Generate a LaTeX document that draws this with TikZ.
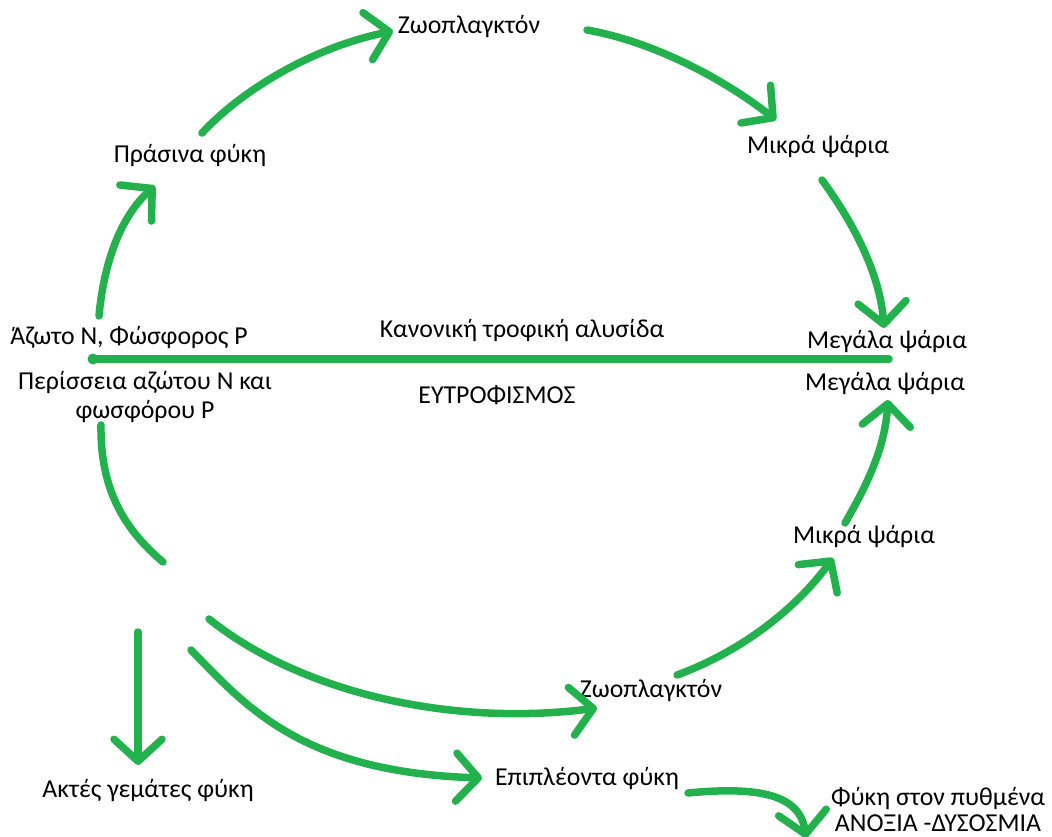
\documentclass[tikz,border=0pt]{standalone}
\usepackage{fontspec}
\setmainfont{Carlito}
\usetikzlibrary{arrows.meta}
\definecolor{paintgreen}{RGB}{34,177,76}
\tikzset{
  lbl/.style={inner sep=0pt, font=\fontsize{25.8}{29}\selectfont, text=black},
  conn/.style={draw=paintgreen, line width=7.5pt, line cap=round, line join=round},
  arr/.style={conn, -{Straight Barb[length=22pt, width=48pt, round]}},
}
\begin{document}
\begin{tikzpicture}[x=1pt, y=-1pt]
\useasboundingbox (0,0) rectangle (1052,836);
% labels
\node[lbl] (zoo1) at (469,26) {Ζωοπλαγκτόν};
\node[lbl] (prasina) at (190,155) {Πράσινα φύκη};
\node[lbl] (mikra1) at (818,146) {Μικρά ψάρια};
\node[lbl] (azoto) at (129,337) {Άζωτο N, Φώσφορος P};
\node[lbl] (kanon) at (522,330) {Κανονική τροφική αλυσίδα};
\node[lbl] (megala1) at (887,341) {Μεγάλα ψάρια};
\node[lbl, align=center] (perisseia) at (145,397) {Περίσσεια αζώτου N και\\φωσφόρου P};
\node[lbl] (eutrof) at (497,395) {ΕΥΤΡΟΦΙΣΜΟΣ};
\node[lbl] (megala2) at (885,383) {Μεγάλα ψάρια};
\node[lbl] (mikra2) at (864,536) {Μικρά ψάρια};
\node[lbl] (zoo2) at (651,690) {Ζωοπλαγκτόν};
\node[lbl] (aktes) at (148,790) {Ακτές γεμάτες φύκη};
\node[lbl] (epipl) at (587,778) {Επιπλέοντα φύκη};
\node[lbl, align=center, font=\fontsize{25.8}{26}\selectfont] (pythm) at (938,809) {Φύκη στον πυθμένα\\ΑΝΟΞΙΑ -ΔΥΣΟΣΜΙΑ};
% connector end points
\coordinate (a1s) at (99,316);
\coordinate (a1e) at (155,186);
\coordinate (a2s) at (202,133);
\coordinate (a2e) at (393,31);
\coordinate (a3s) at (587,30);
\coordinate (a3e) at (776,120);
\coordinate (a4s) at (822,180);
\coordinate (a4e) at (884,328);
\coordinate (ls) at (93,359);
\coordinate (le) at (889,359);
\coordinate (b0s) at (101,425);
\coordinate (b0e) at (163,562);
\coordinate (b1s) at (209,619);
\coordinate (b1e) at (597,708);
\coordinate (b2s) at (677,675);
\coordinate (b2e) at (833,558);
\coordinate (b3s) at (845,523);
\coordinate (b3e) at (888,400);
\coordinate (vs) at (138,632);
\coordinate (ve) at (138,765);
\coordinate (c1s) at (191,650);
\coordinate (c1e) at (482,778);
\coordinate (c2s) at (688,793);
\coordinate (c2e) at (806,838);
% connectors
\draw[arr] (a1s) .. controls (104,260) and (122,215) .. (a1e);
\draw[arr] (a2s) .. controls (240,92) and (310,48) .. (a2e);
\draw[arr] (a3s) .. controls (655,42) and (725,80) .. (a3e);
\draw[arr] (a4s) .. controls (855,225) and (880,275) .. (a4e);
\draw[conn] (ls) -- (le);
\fill[paintgreen] (ls) circle (5.5pt);
\draw[conn] (b0s) .. controls (100,490) and (125,530) .. (b0e);
\draw[arr] (b1s) .. controls (300,692) and (450,727) .. (b1e);
\draw[arr] (b2s) .. controls (740,652) and (795,610) .. (b2e);
\draw[arr] (b3s) .. controls (870,480) and (885,445) .. (b3e);
\draw[arr] (vs) -- (ve);
\draw[arr] (c1s) .. controls (245,705) and (300,772) .. (c1e);
\draw[arr] (c2s) .. controls (760,786) and (800,795) .. (c2e);
\end{tikzpicture}
\end{document}
